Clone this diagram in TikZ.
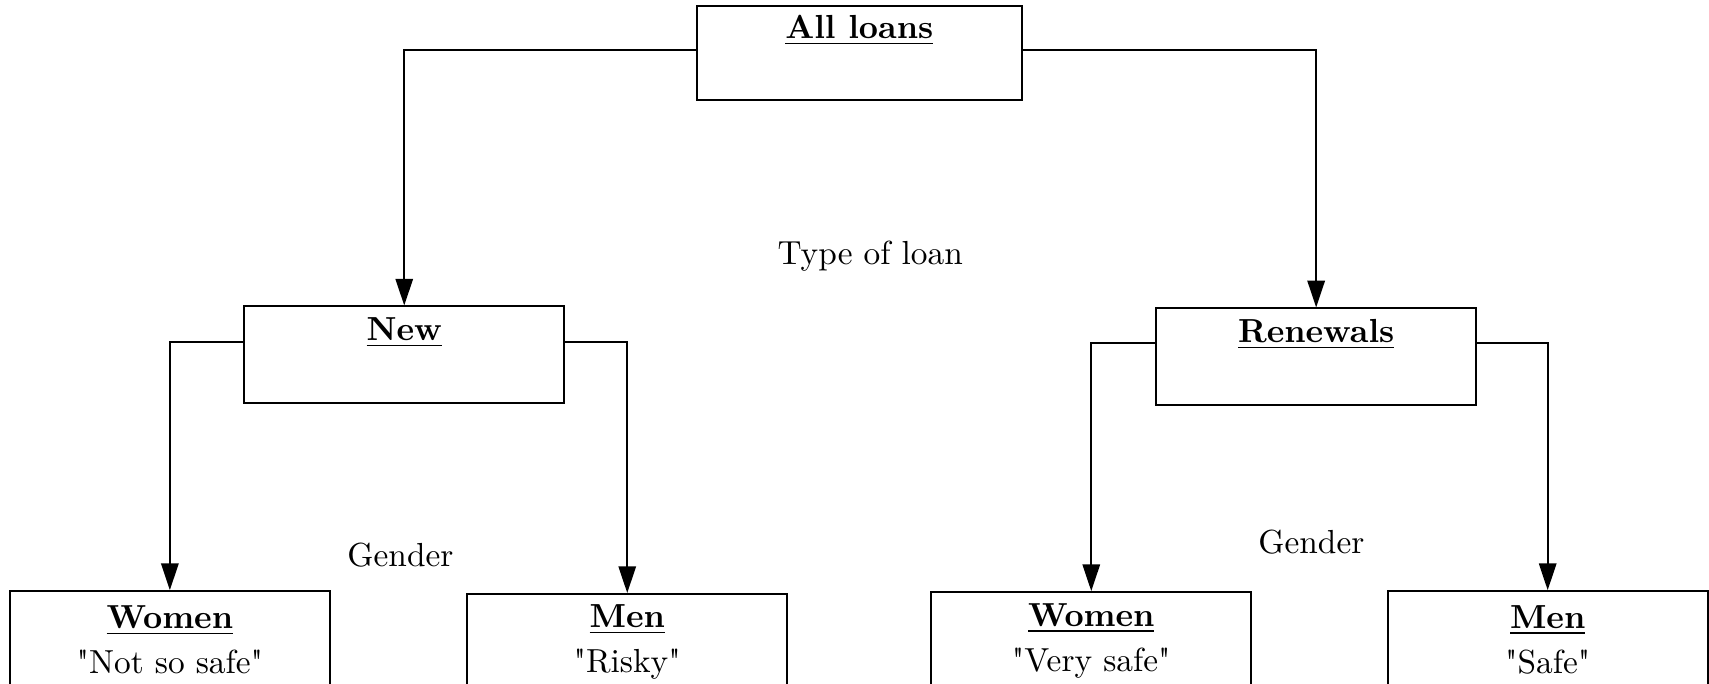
\documentclass[tikz,border=0pt]{standalone}
\usepackage{fontspec}
\usepackage{tikz}
\usetikzlibrary{shapes,arrows,positioning,calc,arrows.meta}

\begin{document}
\begin{tikzpicture}[
    box/.style={rectangle, draw, line width=0.6pt, minimum width=3.37cm, minimum height=1.02cm, align=center, inner sep=0pt},
    link/.style={line width=0.6pt, -{Triangle[length=8pt,width=5.2pt]}}
]
    \useasboundingbox (0,0) rectangle (18.01,7.2);

    \node[box, minimum width=3.43cm, minimum height=0.99cm] (all) at (9.055, 6.64) {\underline{\textbf{All loans}}\\ \strut};
    \node[box] (new) at (4.26, 3.46) {\underline{\textbf{New}}\\ \strut};
    \node[box] (renew) at (13.87, 3.44) {\underline{\textbf{Renewals}}\\ \strut};

    \node (type) at (9.17, 4.50) {Type of loan};
    \node (gnew) at (4.22, 1.35) {Gender};
    \node (grenew) at (13.82, 1.49) {Gender};

    \node[box] (women1) at (1.79, 0.46) {\underline{\textbf{Women}}\\[1.5pt] \textquotedbl Not so safe\textquotedbl};
    \node[box] (men1) at (6.61, 0.43) {\underline{\textbf{Men}}\\[1.5pt] \textquotedbl Risky\textquotedbl};
    \node[box] (women2) at (11.50, 0.45) {\underline{\textbf{Women}}\\[1.5pt] \textquotedbl Very safe\textquotedbl};
    \node[box] (men2) at (16.31, 0.46) {\underline{\textbf{Men}}\\[1.5pt] \textquotedbl Safe\textquotedbl};

    \draw[link] ([yshift=1pt]all.west) -| (new.north);
    \draw[link] ([yshift=1pt]all.east) -| (renew.north);
    \foreach \p/\s/\c in {new/west/women1, new/east/men1, renew/west/women2, renew/east/men2} {
        \draw[link] ([yshift=4pt]\p.\s) -| (\c.north);
    }

\end{tikzpicture}
\end{document}
